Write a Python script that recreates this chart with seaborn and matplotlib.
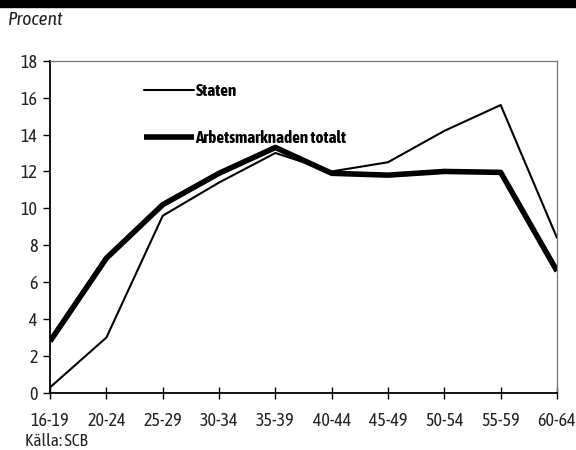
import matplotlib
matplotlib.use("Agg")
import matplotlib.pyplot as plt
from matplotlib.font_manager import fontManager
import seaborn as sns
import pandas as pd

age_groups = ["16-19", "20-24", "25-29", "30-34", "35-39",
              "40-44", "45-49", "50-54", "55-59", "60-64"]
staten = [0.3, 3.0, 9.6, 11.4, 13.0, 12.0, 12.5, 14.2, 15.6, 8.4]
totalt = [2.8, 7.3, 10.2, 11.9, 13.3, 11.9, 11.8, 12.0, 11.95, 6.6]
y_ticks = [0, 2, 4, 6, 8, 10, 12, 14, 16, 18]

sns.set_theme(style="white")


def narrow_family():
    # a narrow sans face that also ships bold and italic cuts
    fams = {}
    for f in fontManager.ttflist:
        if "Narrow" in f.name or "Condensed" in f.name or f.stretch in ("condensed", "semi-condensed"):
            key = f.name
            d = fams.setdefault(key, {"bold": False, "italic": False})
            w = f.weight if isinstance(f.weight, int) else (700 if "bold" in str(f.weight) else 400)
            if w >= 600:
                d["bold"] = True
            if f.style in ("italic", "oblique"):
                d["italic"] = True
    ranked = sorted(fams.items(), key=lambda kv: (not kv[1]["bold"], not kv[1]["italic"],
                                                 "DejaVu" in kv[0]))
    return [ranked[0][0]] if ranked else []


plt.rcParams["font.family"] = narrow_family() + ["DejaVu Sans"]
plt.rcParams["font.stretch"] = "condensed"

df = pd.DataFrame({
    "pos": list(range(len(age_groups))) * 2,
    "value": staten + totalt,
    "serie": ["Staten"] * len(staten) + ["Arbetsmarknaden totalt"] * len(totalt),
})

fig = plt.figure(figsize=(5.76, 4.5), dpi=100)
ax = fig.add_axes([0.087, 0.127, 0.880, 0.738])

sns.lineplot(data=df[df.serie == "Staten"], x="pos", y="value", ax=ax,
             color="black", lw=1.5, sort=False, label="Staten")
sns.lineplot(data=df[df.serie == "Arbetsmarknaden totalt"], x="pos", y="value", ax=ax,
             color="black", lw=4.0, sort=False, label="Arbetsmarknaden totalt",
             solid_capstyle="butt")

ax.set_xlim(0, len(age_groups) - 1)
ax.set_ylim(0, 18)
ax.set_xticks(range(len(age_groups)))
ax.set_xticklabels(age_groups)
ax.set_yticks(y_ticks)
ax.set_xlabel("")
ax.set_ylabel("")
ax.tick_params(axis="x", direction="inout", length=9, width=1, colors="black",
               labelsize=13, pad=9, bottom=True)
ax.tick_params(axis="y", direction="out", length=5, width=1, colors="black",
               labelsize=13, pad=4, left=True)
for lbl in ax.get_xticklabels() + ax.get_yticklabels():
    lbl.set_color("#222222")

for side in ["left", "bottom"]:
    ax.spines[side].set_color("black")
    ax.spines[side].set_linewidth(1.3)
for side in ["top", "right"]:
    ax.spines[side].set_color("#777777")
    ax.spines[side].set_linewidth(0.9)

leg = ax.legend(loc="upper left", bbox_to_anchor=(0.155, 0.979), frameon=False,
                handlelength=2.95, handletextpad=0.05, labelspacing=1.8,
                prop={"weight": "bold", "size": 12.3})
for txt in leg.get_texts():
    txt.set_color("black")

fig.text(0.014, 0.955, "Procent", fontsize=14, style="italic", color="#222222",
         va="center", ha="left")
fig.text(0.044, 0.018, "Källa: SCB", fontsize=12.5, color="#222222",
         va="center", ha="left")
fig.patches.append(plt.Rectangle((0, 0.984), 1, 0.016, transform=fig.transFigure,
                                 color="black", zorder=5))

fig.savefig("out.png", dpi=100)
